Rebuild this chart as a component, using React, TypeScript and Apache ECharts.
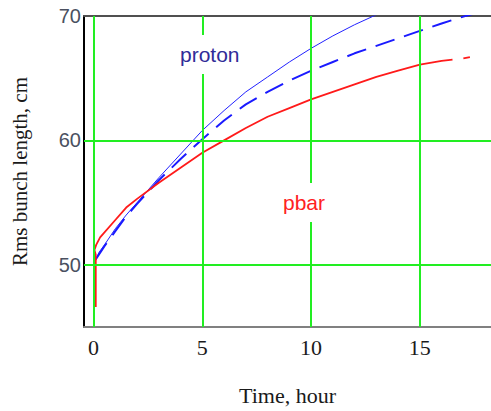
import React, { useEffect, useRef } from "react";
import * as echarts from "echarts";

// Time, hour / Rms bunch length, cm
const protonSolid: [number, number][] = [
  [0.09, 50.4], [0.25, 51.0], [0.5, 51.6], [1, 52.9], [1.5, 54.0], [2, 55.0], [3, 57.0],
  [4, 58.9], [5, 60.8], [6, 62.4], [7, 63.9], [8, 65.1], [9, 66.3], [10, 67.4],
  [11, 68.4], [12, 69.3], [13, 70.1],
];
const protonDashed: [number, number][] = [
  [0.09, 50.4], [0.5, 51.5], [1, 52.7], [1.5, 53.9], [2, 54.9], [3, 56.8], [4, 58.5],
  [5, 60.1], [6, 61.6], [7, 62.9], [8, 63.9], [9, 64.8], [10, 65.6], [11, 66.3],
  [12, 67.0], [13, 67.6], [14, 68.2], [15, 68.8], [16, 69.4], [17, 69.95], [17.5, 70.2],
];
const pbar: ([number, number] | [number, null])[] = [
  [0.1, 46.6], [0.1, 50.8], [0.04, 51.2], [0.12, 51.6], [0.3, 52.2], [1, 53.6], [1.5, 54.6],
  [2, 55.3], [3, 56.6], [4, 57.8], [5, 59.0], [6, 60.0], [7, 61.0], [8, 61.9],
  [9, 62.6], [10, 63.3], [11, 63.9], [12, 64.5], [13, 65.1], [14, 65.6], [15, 66.1],
  [16, 66.4], [16.5, 66.5], [16.8, null], [17.0, 66.6], [17.3, 66.7],
];
const xTicks = [0, 5, 10, 15];
const yTicks = [50, 60, 70];
const xGrid = [0, 5, 10, 15];
const yGrid = [50, 60];

export default function App() {
  const ref = useRef<HTMLDivElement>(null);
  useEffect(() => {
    const chart = echarts.init(ref.current!, null, { renderer: "svg" });
    chart.setOption({
      animation: false,
      backgroundColor: "#ffffff",
      grid: { left: 84, top: 16, right: 0, bottom: 82, containLabel: false },
      xAxis: [
        {
          type: "value",
          min: -0.44,
          max: 18.27,
          name: "Time, hour",
          nameLocation: "middle",
          nameGap: 57,
          nameTextStyle: { fontFamily: "Liberation Serif", fontSize: 22, color: "#1a1a1a" },
          axisLine: { show: true, onZero: false, lineStyle: { color: "#808080", width: 2 } },
          axisTick: { show: false },
          splitLine: { show: false },
          axisLabel: {
            customValues: xTicks,
            fontFamily: "Liberation Serif",
            fontSize: 22,
            color: "#1a1a1a",
            margin: 9,
          },
        },
        {
          type: "value",
          position: "top",
          min: -0.44,
          max: 18.27,
          axisLine: { show: true, onZero: false, lineStyle: { color: "#505050", width: 2 } },
          axisTick: { show: false },
          axisLabel: { show: false },
          splitLine: { show: false },
        },
      ],
      yAxis: {
        type: "value",
        min: 45,
        max: 70,
        name: "Rms bunch length, cm",
        nameLocation: "middle",
        nameRotate: 90,
        nameGap: 54,
        nameTextStyle: { fontFamily: "Liberation Serif", fontSize: 21, color: "#1a1a1a" },
        axisLine: { show: true, onZero: false, lineStyle: { color: "#000000", width: 2 } },
        axisTick: { show: false },
        splitLine: { show: false },
        axisLabel: {
          customValues: yTicks,
          fontFamily: "Liberation Sans",
          fontSize: 20,
          color: "#4a5060",
          margin: 3,
        },
      },
      series: [
        {
          type: "line",
          data: [],
          z: 1,
          silent: true,
          markLine: {
            silent: true,
            symbol: "none",
            label: { show: false },
            lineStyle: { color: "#22ee22", width: 2, type: "solid" },
            data: [
              ...xGrid.map((v) => ({ xAxis: v })),
              ...yGrid.map((v) => ({ yAxis: v })),
            ],
          },
        },
        {
          name: "proton",
          type: "line",
          data: protonSolid,
          showSymbol: false,
          z: 3,
          lineStyle: { color: "#2222ff", width: 1 },
        },
        {
          name: "proton dashed",
          type: "line",
          data: protonDashed,
          showSymbol: false,
          z: 3,
          lineStyle: { color: "#1a1aff", width: 2, type: [20, 10] },
        },
        {
          name: "pbar",
          type: "line",
          data: pbar,
          showSymbol: false,
          connectNulls: false,
          z: 3,
          lineStyle: { color: "#ff1a1a", width: 1.8 },
        },
      ],
      graphic: [
        {
          type: "text",
          x: 176,
          y: 35,
          z: 100,
          style: {
            text: "proton",
            fontFamily: "Liberation Sans",
            fontSize: 21,
            fill: "#302c98",
            backgroundColor: "#ffffff",
            padding: [9, 4, 9, 4],
          },
        },
        {
          type: "text",
          x: 279,
          y: 183,
          z: 100,
          style: {
            text: "pbar",
            fontFamily: "Liberation Sans",
            fontSize: 21,
            fill: "#ff2222",
            backgroundColor: "#ffffff",
            padding: [9, 4, 9, 4],
          },
        },
      ],
    });
    return () => chart.dispose();
  }, []);
  return <div ref={ref} style={{ width: 491, height: 411, position: "absolute", left: 0, top: 0 }} />;
}
